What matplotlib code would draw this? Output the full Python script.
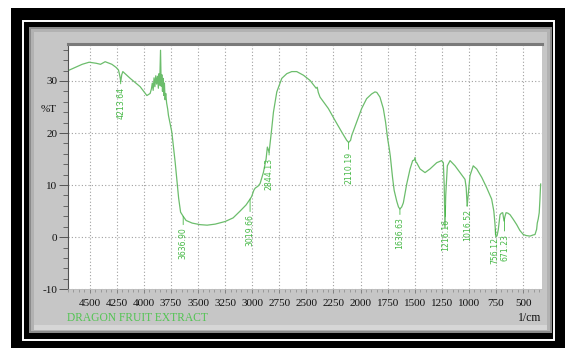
import numpy as np
import matplotlib.pyplot as plt
from matplotlib.patches import Rectangle
from matplotlib.ticker import MultipleLocator

plt.rcParams['font.family'] = ['Liberation Serif', 'DejaVu Serif']

# FTIR spectrum (wavenumber 1/cm, %T)
wavenumber = [4698, 4634, 4569, 4505, 4440, 4400, 4357, 4295, 4256, 4234,
              4222, 4213, 4204, 4194, 4163, 4126, 4080, 4034, 3972, 3942,
              3930, 3922, 3914, 3906, 3898, 3890, 3882, 3874, 3866, 3860,
              3854, 3850, 3846, 3840, 3834, 3828, 3822, 3816, 3810, 3804,
              3798, 3790, 3780, 3773, 3742, 3711, 3696, 3679, 3661, 3637,
              3610, 3554, 3481, 3416, 3342, 3250, 3176, 3112, 3056, 3020,
              3005, 2985, 2973, 2946, 2927, 2897, 2872, 2860, 2844, 2832,
              2819, 2804, 2773, 2727, 2681, 2635, 2589, 2527, 2466, 2410,
              2400, 2390, 2374, 2297, 2235, 2174, 2128, 2110, 2092, 2082,
              2036, 1990, 1944, 1898, 1867, 1850, 1821, 1790, 1769, 1750,
              1735, 1725, 1705, 1690, 1666, 1650, 1637, 1620, 1605, 1590,
              1574, 1543, 1519, 1505, 1497, 1490, 1482, 1451, 1405, 1359,
              1297, 1251, 1236, 1228, 1221, 1214, 1199, 1174, 1128, 1082,
              1036, 1025, 1016, 1005, 990, 960, 928, 882, 836, 790,
              770, 760, 751, 740, 729, 713, 700, 688, 676, 667,
              657, 640, 620, 590, 559, 530, 498, 470, 436, 410,
              390, 375, 369, 360, 351, 345, 338]
transmittance = [32.0, 32.6, 33.2, 33.6, 33.4, 33.2, 33.7, 33.2, 32.6, 32.1,
                 31.0, 29.9, 31.2, 31.8, 31.2, 30.5, 29.7, 28.9, 27.2, 27.6,
                 28.5, 29.6, 28.2, 30.6, 28.9, 31.0, 29.4, 30.9, 28.6, 31.4,
                 29.2, 33.0, 35.9, 29.0, 31.2, 28.0, 30.5, 27.2, 29.6, 26.4,
                 27.6, 25.8, 24.6, 23.4, 20.2, 14.4, 11.1, 7.5, 4.8, 4.0,
                 3.2, 2.7, 2.4, 2.3, 2.5, 3.0, 3.7, 5.0, 6.2, 7.3,
                 7.8, 9.0, 9.4, 9.8, 10.3, 12.4, 15.0, 17.3, 16.3, 18.5,
                 21.0, 24.0, 27.9, 30.5, 31.4, 31.8, 31.8, 31.1, 30.1, 28.6,
                 28.8, 27.8, 26.9, 24.7, 22.4, 20.2, 18.6, 18.2, 18.6, 19.5,
                 22.1, 24.7, 26.6, 27.5, 27.9, 27.8, 26.9, 24.7, 22.1, 18.9,
                 17.0, 15.5, 11.5, 9.0, 6.9, 5.8, 5.4, 5.8, 6.6, 8.3,
                 10.2, 13.1, 14.7, 14.8, 15.3, 14.4, 14.3, 13.1, 12.4, 13.1,
                 14.3, 14.7, 14.3, 10.0, 1.8, 8.0, 13.7, 14.7, 13.7, 12.4,
                 11.1, 9.5, 6.0, 8.5, 11.8, 13.7, 13.1, 11.5, 9.5, 7.3,
                 5.0, 2.7, 0.0, 0.3, 1.4, 4.3, 4.6, 4.7, 3.1, 4.0,
                 4.7, 4.6, 4.3, 3.4, 2.4, 1.3, 0.5, 0.3, 0.2, 0.4,
                 0.5, 1.5, 2.7, 3.5, 4.7, 7.0, 10.2]

peak_wn = [4213.64, 3636.90, 3019.66, 2844.13, 2110.19, 1636.63,
           1216.16, 1016.52, 756.12, 671.23]
peak_labels = ['4213.64', '3636.90', '3019.66', '2844.13', '2110.19',
               '1636.63', '1216.16', '1016.52', '756.12', '671.23']
# gap (points) between curve and label
label_gap = [4, 8, 11, 4, 7, 6, 10, 3, 6, 11]

x_ticks = [4500, 4250, 4000, 3750, 3500, 3250, 3000, 2750, 2500, 2250,
           2000, 1750, 1500, 1250, 1000, 750, 500]
y_ticks = [-10, 0, 10, 20, 30]
y_tick_labels = ['-10', '0', '10', '20', '30']

W, H = 565, 349
fig = plt.figure(figsize=(W / 100, H / 100), dpi=100)


def box(x0, y0, x1, y1, **kw):
    # rectangle given in pixel coords from top-left
    return Rectangle((x0 / W, 1 - y1 / H), (x1 - x0) / W, (y1 - y0) / H,
                     transform=fig.transFigure, zorder=-5, **kw)


fig.patches.extend([
    box(11, 8, 565, 348, fc='black', ec='none'),
    box(23, 21, 554, 340, fc='none', ec='white', lw=1.4),
    box(29, 27, 552, 333, fc='#8c8c8c', ec='none'),
    box(31, 29, 550, 331, fc='#b2b2b2', ec='none'),
    box(34, 32, 547, 327, fc='#c6c6c6', ec='none'),
    box(34, 325, 547, 330, fc='#d6d6d6', ec='none'),
])

ax = fig.add_axes([68 / W, 1 - 289.2 / H, (541.5 - 68) / W, (289.2 - 44) / H])
ax.set_facecolor('white')

green = '#6cbd6c'
ax.plot(wavenumber, transmittance, color=green, lw=0.9)

ax.set_xlim(4700, 330)
ax.set_ylim(-10, 37.1)

# peak labels, rotated and hung below each band
wn_asc = np.array(wavenumber[::-1], dtype=float)
t_asc = np.array(transmittance[::-1], dtype=float)
for wn, lab, gap in zip(peak_wn, peak_labels, label_gap):
    yv = np.interp(wn, wn_asc, t_asc)
    ax.annotate(lab, xy=(wn, yv), xytext=(0, -gap), textcoords='offset points',
                rotation=90, ha='center', va='top', fontsize=5.6,
                family='DejaVu Sans', color='#45b845',
                arrowprops=dict(arrowstyle='-', color='#45b845', lw=0.6,
                                shrinkA=0, shrinkB=0))

ax.set_xticks(x_ticks)
ax.set_xticklabels([str(v) for v in x_ticks])
ax.set_yticks(y_ticks)
ax.set_yticklabels(y_tick_labels)
ax.xaxis.set_minor_locator(MultipleLocator(50))
ax.yaxis.set_minor_locator(MultipleLocator(2))

ax.tick_params(axis='x', which='major', direction='out', length=3, width=0.6,
               color='#777777', labelsize=8, pad=4, labelcolor='#111111')
ax.tick_params(axis='x', which='minor', direction='out', length=2, width=0.5,
               color='#888888')
ax.tick_params(axis='y', which='major', direction='out', length=6.5, width=0.7,
               color='#555555', labelsize=8, pad=1, labelcolor='#111111')
ax.tick_params(axis='y', which='minor', direction='out', length=3.5, width=0.6,
               color='#555555')

ax.grid(True, which='major', color='#a0a0a0', linestyle=(0, (1, 2)), lw=0.8)

ax.spines['top'].set_color('#7a7a7a')
ax.spines['top'].set_linewidth(2.2)
ax.spines['left'].set_color('#505050')
ax.spines['left'].set_linewidth(0.8)
ax.spines['bottom'].set_color('#bdbdbd')
ax.spines['bottom'].set_linewidth(0.5)
ax.spines['right'].set_visible(False)

fig.text(48.7 / W, 1 - 109 / H, '%T', ha='center', va='center', fontsize=8,
         color='#111111')
fig.text(541 / W, 1 - 318 / H, '1/cm', ha='right', va='center', fontsize=8.5,
         color='#111111')
fig.text(67 / W, 1 - 318 / H, 'DRAGON FRUIT EXTRACT', ha='left', va='center',
         fontsize=8.3, color='#52c452')

fig.savefig('out.png', dpi=100)
